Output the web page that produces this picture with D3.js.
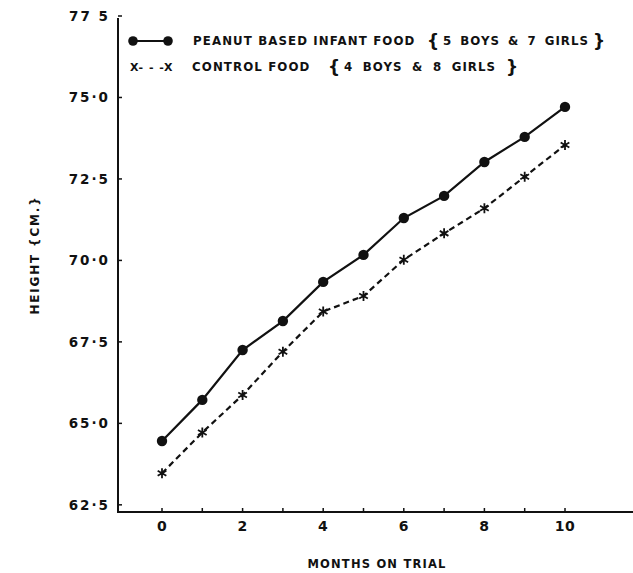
<!DOCTYPE html>
<html>
<head>
<meta charset="utf-8">
<script src="https://cdn.jsdelivr.net/npm/d3@7"></script>
<style>
  html, body { margin: 0; padding: 0; background: #fff; }
  svg { display: block; }
  text { font-family: "DejaVu Sans", "Liberation Sans", sans-serif; font-weight: bold; fill: #111; }
</style>
</head>
<body>
<script>
// ---- data ----
const months = [0, 1, 2, 3, 4, 5, 6, 7, 8, 9, 10];
const peanutHeight = [64.46, 65.72, 67.25, 68.14, 69.34, 70.17, 71.30, 71.98, 73.02, 73.79, 74.71];
const controlHeight = [63.47, 64.72, 65.87, 67.20, 68.43, 68.91, 70.02, 70.83, 71.60, 72.57, 73.54];
const yTickValues = [62.5, 65.0, 67.5, 70.0, 72.5, 75.0, 77.5];
const yTickLabels = ["62·5", "65·0", "67·5", "70·0", "72·5", "75·0", "77 5"];
const xTickValues = [0, 2, 4, 6, 8, 10];
const xTickLabels = ["0", "2", "4", "6", "8", "10"];
const seriesNames = ["PEANUT BASED INFANT FOOD", "CONTROL FOOD"];
const seriesGroups = ["5 BOYS & 7 GIRLS", "4 BOYS & 8 GIRLS"];

const W = 633, H = 573;
const svg = d3.select("body").append("svg").attr("width", W).attr("height", H);
const ink = "#111";

const x = d3.scaleLinear().domain([0, 10]).range([162, 565]);
const y = d3.scaleLinear().domain([62.28, 77.5]).range([512, 16]);
const axisLeftX = 118, axisBottomY = 512, axisRightX = 633, axisTopY = 18;

// axes lines
svg.append("line").attr("x1", axisLeftX).attr("x2", axisLeftX).attr("y1", axisTopY).attr("y2", axisBottomY)
  .attr("stroke", ink).attr("stroke-width", 2);
svg.append("line").attr("x1", axisLeftX - 1).attr("x2", axisRightX).attr("y1", axisBottomY).attr("y2", axisBottomY)
  .attr("stroke", ink).attr("stroke-width", 2);

// y ticks
const yt = svg.append("g");
yt.selectAll("line").data(yTickValues).join("line")
  .attr("x1", axisLeftX).attr("x2", axisLeftX + 4)
  .attr("y1", d => y(d)).attr("y2", d => y(d))
  .attr("stroke", ink).attr("stroke-width", 1.5);
yt.selectAll("text").data(yTickValues).join("text")
  .attr("x", 110).attr("y", d => y(d)).attr("dy", "0.36em")
  .attr("text-anchor", "end").attr("font-size", 13.5).attr("letter-spacing", 2)
  .text((d, i) => yTickLabels[i]);

// x ticks
const xt = svg.append("g");
xt.selectAll("line").data(months).join("line")
  .attr("x1", d => x(d)).attr("x2", d => x(d))
  .attr("y1", axisBottomY).attr("y2", axisBottomY - 4)
  .attr("stroke", ink).attr("stroke-width", 1.5);
xt.selectAll("text").data(xTickValues).join("text")
  .attr("x", d => x(d)).attr("y", 531)
  .attr("text-anchor", "middle").attr("font-size", 14).attr("letter-spacing", 0.5)
  .text((d, i) => xTickLabels[i]);

// axis titles
svg.append("text").attr("x", 377).attr("y", 568).attr("text-anchor", "middle")
  .attr("font-size", 11.5).attr("letter-spacing", 1.2).text("MONTHS ON TRIAL");
svg.append("text").attr("transform", "translate(39,255) rotate(-90)").attr("text-anchor", "middle")
  .attr("font-size", 12).attr("letter-spacing", 1.8).text("HEIGHT  {CM.}");

// lines
const lineGen = d3.line().x((d, i) => x(months[i])).y(d => y(d));
svg.append("path").datum(peanutHeight).attr("d", lineGen)
  .attr("fill", "none").attr("stroke", ink).attr("stroke-width", 2.2);
svg.append("path").datum(controlHeight).attr("d", lineGen)
  .attr("fill", "none").attr("stroke", ink).attr("stroke-width", 2.2).attr("stroke-dasharray", "6,4");

// markers
svg.append("g").selectAll("circle").data(peanutHeight).join("circle")
  .attr("cx", (d, i) => x(months[i])).attr("cy", d => y(d)).attr("r", 5.2).attr("fill", ink);
const ast = d3.symbol().type(d3.symbolAsterisk || d3.symbolCross).size(70);
svg.append("g").selectAll("path").data(controlHeight).join("path")
  .attr("transform", (d, i) => `translate(${x(months[i])},${y(d)})`)
  .attr("d", ast).attr("fill", "none").attr("stroke", ink).attr("stroke-width", 1.8);

// legend
const lg = svg.append("g");
lg.append("line").attr("x1", 133).attr("x2", 168).attr("y1", 41).attr("y2", 41).attr("stroke", ink).attr("stroke-width", 2);
lg.append("circle").attr("cx", 133).attr("cy", 41).attr("r", 4.8).attr("fill", ink);
lg.append("circle").attr("cx", 168).attr("cy", 41).attr("r", 4.8).attr("fill", ink);
lg.append("text").attr("x", 130).attr("y", 71).attr("font-size", 11).attr("letter-spacing", 1).text("X- - -X");

const rows = [
  {y: 45, name: seriesNames[0], nx: 193, ob: 427, gx: 443, cb: 593, group: seriesGroups[0], ws: 3},
  {y: 71, name: seriesNames[1], nx: 192, ob: 328, gx: 344, cb: 506, group: seriesGroups[1], ws: 4.5}
];
rows.forEach(r => {
  lg.append("text").attr("x", r.nx).attr("y", r.y).attr("font-size", 11.8).attr("letter-spacing", 1.1).text(r.name);
  lg.append("text").attr("x", r.ob).attr("y", r.y + 2).attr("font-size", 17).text("{");
  lg.append("text").attr("x", r.gx).attr("y", r.y).attr("font-size", 11.8).attr("letter-spacing", 1.0)
    .attr("word-spacing", r.ws).text(r.group);
  lg.append("text").attr("x", r.cb).attr("y", r.y + 2).attr("font-size", 17).text("}");
});
</script>
</body>
</html>
